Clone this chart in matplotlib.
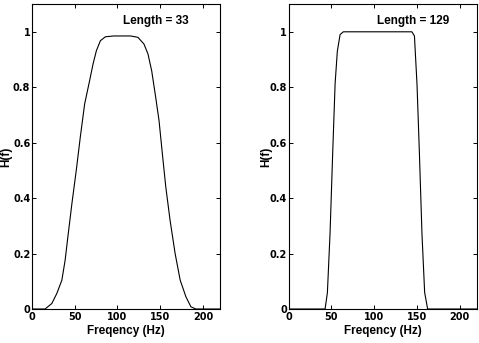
import matplotlib
matplotlib.use('Agg')
import matplotlib.pyplot as plt

plt.rcParams['font.family'] = ['Liberation Sans', 'DejaVu Sans']
plt.rcParams['font.weight'] = 'bold'

# magnitude response, filter length 33
f33 = [0, 15.6, 23.5, 29.3, 35.2, 39, 42.2, 46.9, 52, 56.7, 61.8, 67.6, 71.6,
       75.5, 80.2, 86, 95.8, 115.4, 124, 131, 135.7, 140, 144.7, 148.6, 152.5,
       156.5, 161.5, 167.4, 173.3, 180, 185.8, 191.6, 220]
h33 = [0, 0, 0.02, 0.056, 0.104, 0.176, 0.26, 0.38, 0.50, 0.62, 0.74, 0.824,
       0.884, 0.932, 0.968, 0.982, 0.985, 0.985, 0.98, 0.956, 0.92, 0.86,
       0.764, 0.68, 0.56, 0.44, 0.32, 0.20, 0.104, 0.044, 0.008, 0, 0]

# magnitude response, filter length 129
f129 = [0, 42.7, 45.4, 48.5, 51.7, 54.4, 57, 60.2, 64, 144, 147, 150, 152.7,
        155.8, 158.9, 162.4, 220]
h129 = [0, 0, 0.059, 0.274, 0.574, 0.813, 0.93, 0.99, 1.0, 1.0, 0.985, 0.81,
        0.57, 0.27, 0.06, 0, 0]

titles = ['Length = 33', 'Length = 129']
xticks = [0, 50, 100, 150, 200]
yticks = [0, 0.2, 0.4, 0.6, 0.8, 1]
ytick_labels = ['0', '0.2', '0.4', '0.6', '0.8', '1']

fig = plt.figure(figsize=(4.79, 3.43), dpi=100)
ax1 = fig.add_axes([0.0662, 0.0991, 0.3935, 0.889])
ax2 = fig.add_axes([0.6023, 0.0991, 0.3935, 0.889])

for ax, f, h, title, ylab_x in [(ax1, f33, h33, titles[0], -0.135),
                                (ax2, f129, h129, titles[1], -0.12)]:
    ax.plot(f, h, color='black', lw=0.8)
    ax.set_xlim(0, 220)
    ax.set_ylim(0, 1.1)
    ax.set_xticks(xticks)
    ax.set_yticks(yticks)
    ax.set_yticklabels(ytick_labels)
    ax.tick_params(direction='in', top=True, right=True, length=3, width=0.7,
                   labelsize=7)
    ax.tick_params(axis='x', pad=2)
    ax.tick_params(axis='y', pad=1)
    for lbl in ax.get_xticklabels() + ax.get_yticklabels():
        lbl.set_family('DejaVu Sans')
        lbl.set_fontweight('bold')
    for s in ax.spines.values():
        s.set_linewidth(0.8)
    ax.set_xlabel('Freqency (Hz)', fontsize=8.5, fontweight='bold', labelpad=2)
    ax.set_ylabel('H(f)', fontsize=8.5, fontweight='bold')
    ax.yaxis.label.set_va('center')
    ax.yaxis.set_label_coords(ylab_x, 0.5)
    ax.text(0.66, 0.945, title, transform=ax.transAxes, ha='center', va='center',
            fontsize=8.5, fontweight='bold')

fig.savefig('out.png', dpi=100)
